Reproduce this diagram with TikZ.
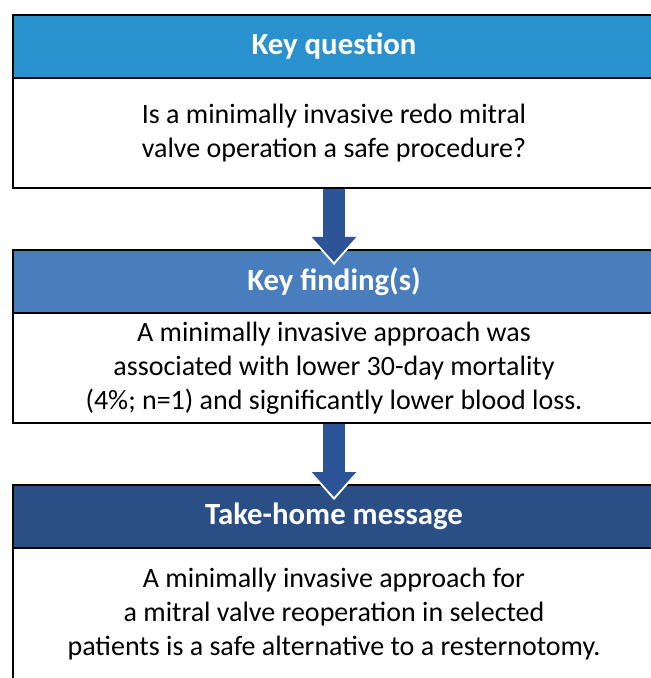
\documentclass[tikz,border=0pt]{standalone}
\usepackage{fontspec}
\setmainfont{Carlito}
\usetikzlibrary{arrows.meta,positioning}
\definecolor{qblue}{RGB}{41,146,206}
\definecolor{fblue}{RGB}{72,126,189}
\definecolor{tblue}{RGB}{42,78,134}
\definecolor{arrowblue}{RGB}{44,84,150}
\begin{document}
\begin{tikzpicture}[head/.style={draw,line width=1.1pt,outer sep=0pt,minimum width=321pt,minimum height=31.5pt,text=white,font={\bfseries\fontsize{15.4}{18}\selectfont}},body/.style={draw,line width=1.1pt,outer sep=0pt,minimum width=321pt,minimum height=55pt,align=center,font={\fontsize{14}{17}\selectfont}},flow/.style={-{Triangle[width=21.5pt,length=12.5pt]},line width=11pt,draw=arrowblue},halo/.style={-{Triangle[width=24.5pt,length=14.5pt]},line width=11pt,draw=white}]
\useasboundingbox (0,0) rectangle (325pt,-339pt);
\node[head,fill=qblue,anchor=north west] (qhead) at (6.5pt,-7.5pt) {Key question};
\node[body,below=0pt of qhead] (qbody) {Is a minimally invasive redo mitral\\valve operation a safe procedure?};
\node[head,fill=fblue,below=31pt of qbody] (fhead) {Key finding(s)};
\node[body,below=0pt of fhead] (fbody) {A minimally invasive approach was\\associated with lower 30-day mortality\\(4\%; n=1) and significantly lower blood loss.};
\node[head,fill=tblue,below=31pt of fbody] (thead) {Take-home message};
\node[body,minimum height=66pt,below=0pt of thead] (tbody) {A minimally invasive approach for\\a mitral valve reoperation in selected\\patients is a safe alternative to a resternotomy.};
\draw[halo] ([yshift=-.6pt]qbody.south) -- ([yshift=-7.6pt]fhead.north);
\draw[flow] ([yshift=-.6pt]qbody.south) -- ([yshift=-6pt]fhead.north);
\draw[halo] ([yshift=-.6pt]fbody.south) -- ([yshift=-7.6pt]thead.north);
\draw[flow] ([yshift=-.6pt]fbody.south) -- ([yshift=-6pt]thead.north);
\end{tikzpicture}
\end{document}
